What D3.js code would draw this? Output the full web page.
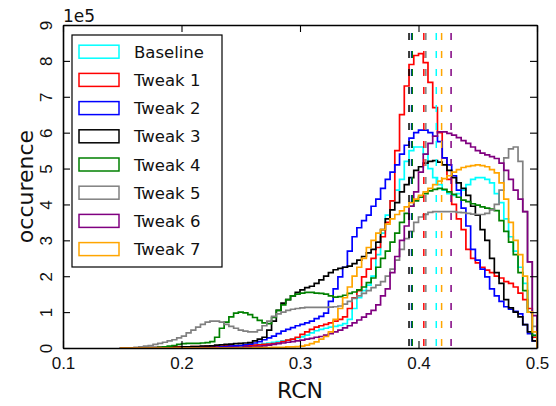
<!DOCTYPE html>
<html>
<head>
<meta charset="utf-8">
<script src="https://cdn.jsdelivr.net/npm/d3@7"></script>
<style>
body { margin: 0; background: #fff; }
svg { display: block; font-family: "DejaVu Sans", sans-serif; }
</style>
</head>
<body>
<svg id="canvas" width="556" height="406"></svg>
<script>
// histogram bins: left edge of first bin and bin width (RCN units)
var bin_start = 0.148;
var bin_width = 0.004;

var series_names = ['Baseline', 'Tweak 1', 'Tweak 2', 'Tweak 3', 'Tweak 4', 'Tweak 5', 'Tweak 6', 'Tweak 7'];
var series_colors = ['#00ffff', '#ff0000', '#0000ff', '#000000', '#008000', '#808080', '#800080', '#ffa500'];

// counts per bin, in units of 1e5
var baseline = [0,0,0,0,0,0.01,0.01,0.01,0.01,0.01,
    0.02,0.02,0.02,0.02,0.03,0.03,0.03,0.03,0.04,0.04,
    0.04,0.05,0.05,0.05,0.06,0.06,0.07,0.08,0.09,0.1,
    0.12,0.14,0.16,0.18,0.2,0.22,0.25,0.28,0.31,0.36,
    0.42,0.48,0.52,0.55,0.58,0.6,0.63,0.68,0.8,1.1,
    1.4,1.6,1.75,2.0,2.6,3.2,3.7,4.1,4.4,4.7,
    5.2,5.5,5.6,5.6,5.4,5.0,4.75,4.55,4.4,4.3,
    4.25,4.3,4.4,4.55,4.7,4.75,4.75,4.7,4.6,4.3,
    4.05,3.6,3.1,2.7,2.25,1.8,1.0,0.35];
var tweak1 = [0,0,0,0,0,0.01,0.01,0.01,0.02,0.02,
    0.02,0.03,0.03,0.03,0.03,0.04,0.04,0.04,0.05,0.05,
    0.05,0.05,0.06,0.06,0.06,0.07,0.07,0.08,0.08,0.09,
    0.1,0.11,0.12,0.14,0.18,0.22,0.25,0.3,0.38,0.45,
    0.52,0.58,0.62,0.66,0.7,0.75,0.8,0.87,1.1,1.4,
    1.6,1.98,2.2,2.5,2.8,3.1,3.5,4.1,5.5,6.5,
    7.3,7.9,8.15,8.2,7.95,7.4,6.7,6.0,5.3,4.7,
    4.0,3.6,3.3,2.75,2.5,2.37,2.25,2.17,2.1,2.0,
    1.95,1.85,1.8,1.7,1.53,1.35,1.1,0.3];
var tweak2 = [0,0,0,0,0,0,0,0,0,0,
    0,0,0,0.01,0.01,0.01,0.01,0.01,0.02,0.02,
    0.02,0.03,0.04,0.05,0.06,0.07,0.09,0.11,0.14,0.18,
    0.23,0.28,0.33,0.4,0.47,0.52,0.57,0.62,0.66,0.7,
    0.75,0.82,0.88,0.97,1.3,1.65,1.98,2.25,2.7,3.1,
    3.35,3.55,3.7,3.95,4.15,4.45,4.7,4.9,5.1,5.4,
    5.65,5.85,6.0,6.07,6.07,6.0,5.9,5.75,5.3,5.1,
    4.8,4.4,3.9,3.4,2.75,2.45,2.2,1.98,1.65,1.45,
    1.3,1.15,1.08,1.02,0.95,0.65,0.4,0.2];
var tweak3 = [0,0,0,0,0,0,0.01,0.01,0.01,0.01,
    0.02,0.02,0.02,0.03,0.03,0.04,0.04,0.05,0.05,0.06,
    0.08,0.09,0.1,0.11,0.12,0.13,0.14,0.15,0.2,0.25,
    0.3,0.5,0.75,1.05,1.25,1.35,1.45,1.55,1.62,1.68,
    1.72,1.8,1.9,2.0,2.1,2.18,2.22,2.25,2.28,2.35,
    2.45,2.55,2.65,2.75,2.95,3.3,3.6,3.85,4.05,4.35,
    4.55,4.75,4.95,5.05,5.15,5.2,5.22,5.18,5.1,4.95,
    4.75,4.6,4.45,4.25,3.95,3.7,3.3,3.0,2.5,2.1,
    1.8,1.35,1.12,1.0,0.87,0.65,0.45,0.2];
var tweak4 = [0,0,0,0,0,0,0,0,0.02,0.03,
    0.05,0.07,0.1,0.12,0.13,0.13,0.13,0.14,0.15,0.18,
    0.3,0.55,0.72,0.87,0.97,1.0,0.98,0.93,0.85,0.77,
    0.7,0.68,0.85,1.05,1.2,1.35,1.45,1.5,1.53,1.55,
    1.55,1.53,1.52,1.5,1.45,1.42,1.43,1.47,1.52,1.56,
    1.62,1.7,1.82,1.95,2.25,2.5,2.7,2.95,3.2,3.5,
    3.75,3.95,4.1,4.2,4.3,4.38,4.42,4.45,4.42,4.35,
    4.28,4.2,4.12,4.08,4.02,3.98,3.93,3.9,3.87,3.83,
    3.55,3.25,2.95,2.6,2.1,1.6,1.0,0.35];
var tweak5 = [0,0,0,0.02,0.03,0.05,0.07,0.1,0.13,0.16,
    0.2,0.23,0.28,0.33,0.42,0.5,0.58,0.66,0.72,0.75,
    0.75,0.72,0.66,0.6,0.55,0.5,0.47,0.45,0.45,0.5,
    0.62,0.75,0.88,0.95,1.0,1.05,1.08,1.1,1.12,1.13,
    1.13,1.13,1.13,1.13,1.14,1.15,1.17,1.22,1.3,1.38,
    1.45,1.52,1.6,1.68,1.75,1.85,2.0,2.2,2.45,2.75,
    3.05,3.25,3.5,3.65,3.72,3.78,3.8,3.8,3.8,3.8,
    3.8,3.78,3.77,3.75,3.73,3.72,3.72,3.75,3.85,4.0,
    4.4,5.3,5.55,5.6,5.2,3.8,2.4,0.6];
var tweak6 = [0,0,0,0,0,0,0,0,0,0,
    0,0,0,0,0,0,0,0.01,0.01,0.01,
    0.01,0.01,0.01,0.02,0.02,0.02,0.03,0.03,0.04,0.05,
    0.06,0.08,0.1,0.12,0.14,0.16,0.18,0.2,0.22,0.25,
    0.27,0.3,0.32,0.36,0.4,0.45,0.5,0.56,0.62,0.7,
    0.78,0.86,0.95,1.05,1.2,1.45,1.65,2.1,2.55,3.0,
    3.4,3.95,4.35,4.9,5.4,5.7,5.9,6.02,6.02,5.98,
    5.93,5.86,5.78,5.7,5.6,5.5,5.43,5.38,5.33,5.28,
    5.15,4.95,4.7,4.4,4.15,3.8,2.4,0.9];
var tweak7 = [0,0,0,0,0,0,0,0,0,0,
    0,0,0,0,0,0,0,0,0,0,
    0,0,0,0,0,0,0,0,0.01,0.01,
    0.01,0.01,0.02,0.02,0.02,0.03,0.03,0.04,0.05,0.08,
    0.12,0.17,0.25,0.32,0.45,0.8,1.1,1.4,1.7,2.0,
    2.25,2.5,2.8,3.0,3.2,3.3,3.45,3.6,3.72,3.82,
    3.93,4.05,4.15,4.25,4.35,4.45,4.55,4.65,4.72,4.8,
    4.9,4.97,5.03,5.06,5.08,5.1,5.08,5.05,4.97,4.88,
    4.6,4.15,3.5,3.0,2.6,2.0,1.0,0.45];

// mean RCN of each series (dashed lines)
var series_means = [0.415, 0.4045, 0.3942, 0.392, 0.3947, 0.4062, 0.4275, 0.4195];

var x_ticks = [0.1, 0.2, 0.3, 0.4, 0.5];
var y_ticks = [0, 1, 2, 3, 4, 5, 6, 7, 8, 9];

var all_counts = [baseline, tweak1, tweak2, tweak3, tweak4, tweak5, tweak6, tweak7];

draw_chart();

function draw_chart(){
    var padding = {top: 25, left: 63, right: 19, bottom: 58};
    var canvas = d3.select('#canvas');
    var canvas_width = +canvas.attr('width');
    var canvas_height = +canvas.attr('height');

    var x_scale = d3.scaleLinear()
        .domain([0.1, 0.5])
        .range([padding.left, canvas_width - padding.right]);
    var y_scale = d3.scaleLinear()
        .domain([0, 9])
        .range([canvas_height - padding.bottom, padding.top]);

    canvas.append('clipPath').attr('id', 'plot-clip')
        .append('rect')
        .attr('x', x_scale(0.1)).attr('y', y_scale(9))
        .attr('width', x_scale(0.5) - x_scale(0.1))
        .attr('height', y_scale(0) - y_scale(9));

    draw_histograms(canvas, x_scale, y_scale);
    draw_means(canvas, x_scale, y_scale);
    draw_axes(canvas, x_scale, y_scale);
    draw_legend(canvas);
}

function draw_histograms(canvas, x_scale, y_scale){
    var plot_area = canvas.append('g').attr('clip-path', 'url(#plot-clip)');
    var line = d3.line()
        .x(function(d){ return x_scale(d[0]); })
        .y(function(d){ return y_scale(d[1]); })
        .curve(d3.curveStepAfter);

    all_counts.forEach(function(counts, s){
        var pts = [[bin_start, 0]];
        counts.forEach(function(v, i){ pts.push([bin_start + i * bin_width, v]); });
        pts.push([bin_start + counts.length * bin_width, 0]);
        plot_area.append('path')
            .attr('d', line(pts))
            .attr('fill', 'none')
            .attr('stroke', series_colors[s])
            .attr('stroke-width', 1.7)
            .attr('stroke-linejoin', 'miter');
    });
}

function draw_means(canvas, x_scale, y_scale){
    var g = canvas.append('g');
    // draw in the order the legend lists them
    series_means.forEach(function(m, s){
        g.append('line')
            .attr('x1', x_scale(m)).attr('x2', x_scale(m))
            .attr('y1', y_scale(9)).attr('y2', y_scale(0))
            .attr('stroke', series_colors[s])
            .attr('stroke-width', 1.5)
            .attr('stroke-dasharray', '7,11')
            .attr('stroke-dashoffset', 10);
    });
}

function draw_axes(canvas, x_scale, y_scale){
    var y0 = y_scale(0), y9 = y_scale(9);
    var x0 = x_scale(0.1), x1 = x_scale(0.5);

    var bottom = canvas.append('g')
        .attr('transform', 'translate(0,' + y0 + ')')
        .call(d3.axisBottom(x_scale).tickValues(x_ticks).tickSize(-7).tickSizeOuter(0).tickPadding(9)
              .tickFormat(d3.format('.1f')));
    var top = canvas.append('g')
        .attr('transform', 'translate(0,' + y9 + ')')
        .call(d3.axisTop(x_scale).tickValues(x_ticks).tickSize(-7).tickSizeOuter(0).tickFormat(''));
    var left = canvas.append('g')
        .attr('transform', 'translate(' + x0 + ',0)')
        .call(d3.axisLeft(y_scale).tickValues(y_ticks).tickSize(-7).tickSizeOuter(0).tickFormat(d3.format('d')));
    var right = canvas.append('g')
        .attr('transform', 'translate(' + x1 + ',0)')
        .call(d3.axisRight(y_scale).tickValues(y_ticks).tickSize(-7).tickSizeOuter(0).tickFormat(''));

    [bottom, top, left, right].forEach(function(ax){
        ax.select('.domain').attr('stroke', '#000').attr('stroke-width', 1.6);
        ax.selectAll('.tick line').attr('stroke', '#000').attr('stroke-width', 1.1);
        ax.selectAll('.tick text').attr('fill', '#111').style('font-size', '17px');
    });

    // y tick labels are turned on their side
    left.selectAll('.tick text')
        .attr('x', null).attr('dy', null)
        .attr('text-anchor', 'middle')
        .attr('transform', 'translate(-11,0) rotate(-90)');

    canvas.append('text')
        .attr('x', (x0 + x1) / 2).attr('y', 398)
        .attr('text-anchor', 'middle')
        .style('font-size', '22px').attr('fill', '#111')
        .text('RCN');

    canvas.append('text')
        .attr('transform', 'translate(33,' + ((y0 + y9) / 2) + ') rotate(-90)')
        .attr('text-anchor', 'middle')
        .style('font-size', '22px').attr('fill', '#111')
        .text('occurence');

    canvas.append('text')
        .attr('x', x0).attr('y', 22)
        .style('font-size', '17px').attr('fill', '#111')
        .text('1e5');
}

function draw_legend(canvas){
    var legend = canvas.append('g').attr('transform', 'translate(72,35)');
    legend.append('rect')
        .attr('width', 150).attr('height', 232)
        .attr('fill', '#fff')
        .attr('stroke', '#000').attr('stroke-width', 1.2);

    var rows = legend.selectAll('.entry')
        .data(series_names)
        .enter()
        .append('g')
        .attr('class', 'entry')
        .attr('transform', function(d, i){ return 'translate(0,' + (16.7 + 28.2 * i) + ')'; });

    rows.append('rect')
        .attr('x', 7).attr('y', -6.5)
        .attr('width', 40).attr('height', 13)
        .attr('fill', '#fff')
        .attr('stroke', function(d, i){ return series_colors[i]; })
        .attr('stroke-width', 1.5);

    rows.append('text')
        .attr('x', 62).attr('y', 6)
        .style('font-size', '16.5px').attr('fill', '#111')
        .text(function(d){ return d; });
}
</script>
</body>
</html>
